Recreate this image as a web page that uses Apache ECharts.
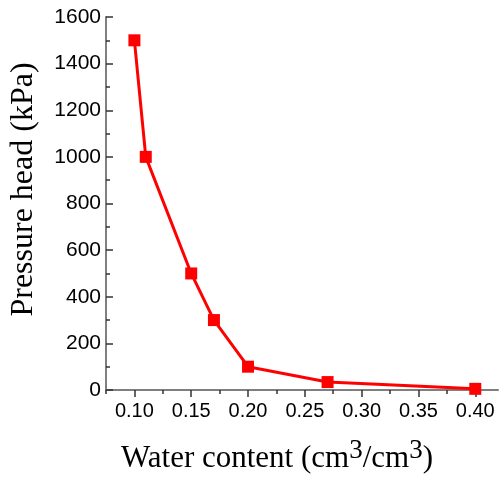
<!DOCTYPE html>
<html>
<head>
<meta charset="utf-8">
<script src="https://cdn.jsdelivr.net/npm/echarts@6/dist/echarts.min.js"></script>
<style>html,body{margin:0;padding:0;background:#fff}#c{width:503px;height:480px}</style>
</head>
<body>
<div id="c"></div>
<script>
var waterContent = [0.10, 0.11, 0.15, 0.17, 0.20, 0.27, 0.40];
var pressureHead = [1500, 1000, 500, 300, 100, 34, 5];
var xMajorTicks = [0.10, 0.15, 0.20, 0.25, 0.30, 0.35, 0.40];
var xMinorTicks = [0.075, 0.125, 0.175, 0.225, 0.275, 0.325, 0.375];

var chart = echarts.init(document.getElementById('c'));
var axisColor = '#7f7f7f';
chart.setOption({
  animation: false,
  grid: {left: 104, right: 5, top: 17, bottom: 90},
  xAxis: [{
    type: 'value', min: 0.075, max: 0.42,
    splitLine: {show: false},
    axisLine: {lineStyle: {color: axisColor, width: 2}},
    axisTick: {show: true, inside: false, length: 7, customValues: xMajorTicks, lineStyle: {color: '#333', width: 1.5}},
    axisLabel: {customValues: xMajorTicks, margin: 11, fontFamily: 'Liberation Sans', fontSize: 20, color: '#000',
      formatter: function (v) { return v.toFixed(2); }},
    name: 'Water content (cm{sup|3}/cm{sup|3})',
    nameLocation: 'middle', nameGap: 47,
    nameTextStyle: {fontFamily: 'Liberation Serif', fontSize: 31, color: '#000', padding: [0, 50, 0, 0],
      rich: {sup: {fontFamily: 'Liberation Serif', fontSize: 27, verticalAlign: 'top', padding: [0, 0, 16, 0], color: '#000'}}}
  }, {
    type: 'value', min: 0.075, max: 0.42, position: 'bottom',
    splitLine: {show: false},
    axisLine: {show: false},
    axisTick: {show: true, inside: false, length: 4, customValues: xMinorTicks, lineStyle: {color: '#333', width: 1.5}},
    axisLabel: {show: false}
  }],
  yAxis: {
    type: 'value', min: 0, max: 1600, interval: 200,
    splitLine: {show: false},
    axisLine: {show: true, lineStyle: {color: axisColor, width: 2}},
    axisTick: {show: true, inside: true, length: 7, lineStyle: {color: '#333', width: 1.5}},
    minorTick: {show: true, splitNumber: 2, length: 4, lineStyle: {color: '#333', width: 1.5}},
    minorSplitLine: {show: false},
    axisLabel: {margin: 5, fontFamily: 'Liberation Sans', fontSize: 21, color: '#000',
      formatter: function (v) { return String(v); }},
    name: 'Pressure head (kPa)',
    nameLocation: 'middle', nameGap: 66, nameRotate: 90,
    nameTextStyle: {fontFamily: 'Liberation Serif', fontSize: 32, color: '#000', padding: [0, 0, 0, 28]}
  },
  series: [{
    type: 'line',
    data: waterContent.map(function (x, i) { return [x, pressureHead[i]]; }),
    symbol: 'rect', symbolSize: 12,
    lineStyle: {color: '#ff0000', width: 3},
    itemStyle: {color: '#ff0000'},
    clip: false
  }]
});
</script>
</body>
</html>
